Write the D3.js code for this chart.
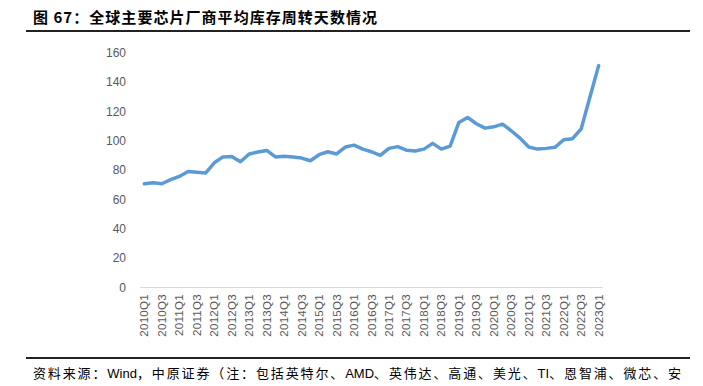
<!DOCTYPE html>
<html>
<head>
<meta charset="utf-8">
<script src="https://cdn.jsdelivr.net/npm/d3@7"></script>
<style>
  body { margin: 0; background: #fff; }
  svg { display: block; }
</style>
</head>
<body>
<div id="chart"></div>
<script>
// quarters 2010Q1 .. 2023Q1
var quarters = [];
for (var yr = 2010; yr <= 2023; yr++) {
  for (var q = 1; q <= 4; q++) {
    if (yr === 2023 && q > 1) break;
    quarters.push(yr + "Q" + q);
  }
}

// average inventory turnover days
var days = [
  70.7, 71.4, 70.7, 73.5, 75.7, 79.0, 78.5, 78.0,
  85.0, 89.0, 89.3, 85.7, 91.0, 92.3, 93.4, 89.0,
  89.4, 89.0, 88.2, 86.4, 90.5, 92.5, 91.0, 95.7,
  97.0, 94.3, 92.5, 90.0, 94.8, 96.0, 93.6, 93.0,
  94.3, 98.2, 94.3, 96.4, 112.5, 115.9, 111.6, 108.6,
  109.5, 111.3, 106.8, 101.8, 95.7, 94.3, 94.8, 95.5,
  100.7, 101.4, 108.0, 129.7, 151.2
];

var yTicks = [0, 20, 40, 60, 80, 100, 120, 140, 160];

var titleText = "图 67：全球主要芯片厂商平均库存周转天数情况";
var sourceText = "资料来源：Wind，中原证券（注：包括英特尔、AMD、英伟达、高通、美光、TI、恩智浦、微芯、安";

var width = 703, height = 386;
var svg = d3.select("#chart").append("svg")
    .attr("width", width)
    .attr("height", height);

// title
svg.append("text")
    .attr("x", 33)
    .attr("y", 23)
    .attr("font-family", "Noto Sans CJK SC")
    .attr("font-weight", "bold")
    .attr("font-size", 15)
    .attr("fill", "#000")
    .attr("textLength", 344)
    .attr("lengthAdjust", "spacing")
    .text(titleText);

svg.append("line")
    .attr("x1", 26).attr("x2", 690)
    .attr("y1", 31).attr("y2", 31)
    .attr("stroke", "#222").attr("stroke-width", 2);

// scales
var x = d3.scaleBand().domain(quarters).range([140, 603]).padding(0);
var y = d3.scaleLinear().domain([0, 160]).range([287.5, 52.7]);

// y axis labels
svg.append("g").selectAll("text")
    .data(yTicks)
    .enter().append("text")
    .attr("x", 126)
    .attr("y", function(d) { return y(d); })
    .attr("dy", "0.35em")
    .attr("text-anchor", "end")
    .attr("font-family", "Liberation Sans, Arial, sans-serif")
    .attr("font-size", 12)
    .attr("fill", "#595959")
    .text(function(d) { return d; });

// baseline
svg.append("line")
    .attr("x1", 140).attr("x2", 603)
    .attr("y1", y(0)).attr("y2", y(0))
    .attr("stroke", "#d9d9d9").attr("stroke-width", 1);

// x labels every other quarter, rotated
svg.append("g").selectAll("text")
    .data(quarters.filter(function(d, i) { return i % 2 === 0; }))
    .enter().append("text")
    .attr("transform", function(d) {
      return "translate(" + (x(d) + x.bandwidth() / 2 + 4) + "," + 294 + ") rotate(-90)";
    })
    .attr("text-anchor", "end")
    .attr("font-family", "Liberation Sans, Arial, sans-serif")
    .attr("font-size", 11.5)
    .attr("letter-spacing", 0.3)
    .attr("fill", "#595959")
    .text(function(d) { return d; });

// the line
var line = d3.line()
    .x(function(d, i) { return x(quarters[i]) + x.bandwidth() / 2; })
    .y(function(d) { return y(d); });

svg.append("path")
    .datum(days)
    .attr("d", line)
    .attr("fill", "none")
    .attr("stroke", "#5B9BD5")
    .attr("stroke-width", 3.5)
    .attr("stroke-linejoin", "round")
    .attr("stroke-linecap", "round");

// footer
svg.append("line")
    .attr("x1", 26).attr("x2", 690)
    .attr("y1", 358).attr("y2", 358)
    .attr("stroke", "#222").attr("stroke-width", 2);

// split source into CJK and latin runs so only the CJK gets spaced out
var parts = sourceText.match(/[A-Za-z]+|[^A-Za-z]+/g);
var src = svg.append("text")
    .attr("x", 33)
    .attr("y", 378)
    .attr("font-family", "Noto Sans CJK SC")
    .attr("font-size", 13)
    .attr("fill", "#000");
var spans = src.selectAll("tspan")
    .data(parts)
    .enter().append("tspan")
    .attr("font-family", function(d) { return /[A-Za-z]/.test(d) ? "Liberation Sans Narrow, Liberation Sans, sans-serif" : "Noto Sans CJK SC"; })
    .text(function(d) { return d; });
var natural = src.node().getComputedTextLength();
var cjkCount = parts.filter(function(d) { return !/[A-Za-z]/.test(d); })
    .reduce(function(a, d) { return a + d.length; }, 0);
var extra = (650 - natural) / cjkCount;
spans.attr("letter-spacing", function(d) { return /[A-Za-z]/.test(d) ? 0 : extra; });
</script>
</body>
</html>
